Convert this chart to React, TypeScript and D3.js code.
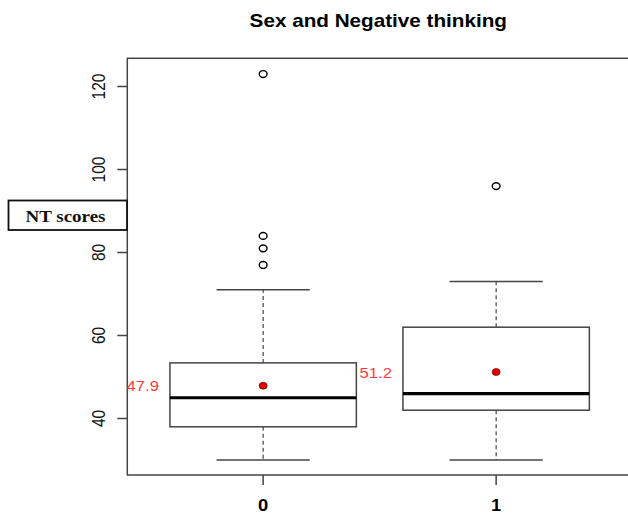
import React from "react";
import * as d3 from "d3";

// box plot summary
const groups = ["0", "1"];
const lowWhisker = [30, 30];
const q1 = [38, 42];
const medians = [45, 46];
const q3 = [53.4, 62];
const highWhisker = [71, 73];
const means = [47.9, 51.2];
const outliers = [[77, 81, 84, 123], [96]];
const yTicks = [40, 60, 80, 100, 120];

const W = 628;
const H = 515;
const SX = 1.15; // the picture is stretched sideways

const frame = { left: 127.3, top: 58.3, bottom: 475, right: 632 };

const x = d3.scaleLinear().domain([0.417, 2.583]).range([frame.left, frame.right]);
const y = d3.scaleLinear().domain([40, 120]).range([418.5, 86.5]);

const boxW = x(1.4) - x(1);
const capW = x(1.2) - x(1);
const lineCol = "#444";

const App = () => {
  return (
    <svg width={W} height={H} style={{ position: "absolute", left: 0, top: 0, background: "#fff" }}>
      {/* title */}
      <text
        transform={`translate(378.3,26.7) scale(${SX},1)`}
        textAnchor="middle"
        fontFamily="Liberation Sans, Arial, sans-serif"
        fontWeight="bold"
        fontSize={18}
        fill="#000"
      >
        Sex and Negative thinking
      </text>

      {/* plot frame, right edge falls off the picture */}
      <rect
        x={frame.left}
        y={frame.top}
        width={frame.right - frame.left}
        height={frame.bottom - frame.top}
        fill="none"
        stroke={lineCol}
        strokeWidth={1.5}
      />

      {/* y axis */}
      {yTicks.map((t) => (
        <g key={t}>
          <line x1={frame.left - 10} x2={frame.left} y1={y(t)} y2={y(t)} stroke={lineCol} strokeWidth={1.5} />
          <text
            transform={`translate(104.5,${y(t)}) scale(${SX},1) rotate(-90)`}
            textAnchor="middle"
            fontFamily="Liberation Sans, Arial, sans-serif"
            fontSize={15.5}
            fill="#111"
          >
            {t}
          </text>
        </g>
      ))}

      {/* x axis */}
      {groups.map((g, i) => (
        <g key={g}>
          <line x1={x(i + 1)} x2={x(i + 1)} y1={frame.bottom} y2={frame.bottom + 10} stroke={lineCol} strokeWidth={1.5} />
          <text
            transform={`translate(${x(i + 1)},510.5) scale(${SX},1)`}
            textAnchor="middle"
            fontFamily="Liberation Sans, Arial, sans-serif"
            fontWeight="bold"
            fontSize={16}
            fill="#000"
          >
            {g}
          </text>
        </g>
      ))}

      {/* boxes */}
      {groups.map((g, i) => {
        const cx = x(i + 1);
        return (
          <g key={"box" + g}>
            <line x1={cx} x2={cx} y1={y(q3[i])} y2={y(highWhisker[i])} stroke={lineCol} strokeWidth={1.2} strokeDasharray="4,3" />
            <line x1={cx} x2={cx} y1={y(q1[i])} y2={y(lowWhisker[i])} stroke={lineCol} strokeWidth={1.2} strokeDasharray="4,3" />
            <line x1={cx - capW} x2={cx + capW} y1={y(highWhisker[i])} y2={y(highWhisker[i])} stroke={lineCol} strokeWidth={1.5} />
            <line x1={cx - capW} x2={cx + capW} y1={y(lowWhisker[i])} y2={y(lowWhisker[i])} stroke={lineCol} strokeWidth={1.5} />
            <rect
              x={cx - boxW}
              y={y(q3[i])}
              width={boxW * 2}
              height={y(q1[i]) - y(q3[i])}
              fill="#fff"
              stroke={lineCol}
              strokeWidth={1.5}
            />
            <line x1={cx - boxW} x2={cx + boxW} y1={y(medians[i])} y2={y(medians[i])} stroke="#000" strokeWidth={3.2} />
            {outliers[i].map((o) => (
              <ellipse key={o} cx={cx} cy={y(o)} rx={3.9} ry={3.4} fill="none" stroke="#000" strokeWidth={1.4} />
            ))}
            <ellipse cx={cx} cy={y(means[i])} rx={4} ry={3.5} fill="#e00000" stroke="#6a0000" strokeWidth={0.7} />
            <text
              transform={`translate(${cx - boxW - 11},${y(means[i]) + 5.5}) scale(${SX},1)`}
              textAnchor="end"
              fontFamily="Liberation Sans, Arial, sans-serif"
              fontSize={14.5}
              fill="#ff3b3b"
            >
              {means[i]}
            </text>
          </g>
        );
      })}

      {/* pasted axis label box */}
      <rect x={8.5} y={200.5} width={118.5} height={29.5} fill="#fff" stroke="#111" strokeWidth={1.8} />
      <text
        transform={`translate(65.5,222) scale(${SX},1)`}
        textAnchor="middle"
        fontFamily="Liberation Serif, Times New Roman, serif"
        fontWeight="bold"
        fontSize={16.5}
        fill="#111"
      >
        NT scores
      </text>
    </svg>
  );
};

export default App;
